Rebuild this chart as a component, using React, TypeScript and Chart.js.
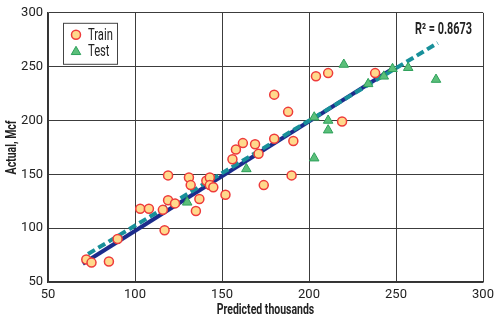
import React, { useEffect, useRef } from "react";
import { Chart, registerables } from "chart.js";

Chart.register(...registerables);

const trainX = [72, 75, 85, 90, 103, 108, 117, 116, 119, 119, 123, 131, 132, 137, 135, 141, 143, 143, 145, 152, 156, 158, 162, 169, 171, 174, 180, 180, 188, 190, 191, 204, 211, 219, 238];
const trainY = [71, 68, 69, 90, 118, 118, 98, 117, 149, 126, 123, 147, 140, 127, 116, 144, 147, 140, 138, 131, 164, 173, 179, 178, 169, 140, 224, 183, 208, 149, 181, 241, 244, 199, 244];
const testX = [130, 164, 203, 203, 211, 211, 220, 234, 243, 248, 257, 273];
const testY = [124, 155, 203, 165, 200, 191, 252, 234, 241, 248, 249, 238];
const fitX = [70, 249];
const fitY = [67, 249];
const trendX = [73, 274];
const trendY = [76, 272];
const xTicks = [50, 100, 150, 200, 250, 300];
const yTicks = [50, 100, 150, 200, 250, 300];
const r2Label = "R² = 0.8673";
const xTitle = "Predicted thousands";
const yTitle = "Actual, Mcf";

const FONT = "Roboto, 'Noto Sans', sans-serif";
const CIRCLE_FILL = "#FFD98C";
const CIRCLE_STROKE = "#EE3B3B";
const TRI_FILL = "#5BBF7A";
const TRI_STROKE = "#2DA05A";
const TEXT = "#222";

const toPts = (xs: number[], ys: number[]) => xs.map((x, i) => ({ x, y: ys[i] }));

function narrowText(ctx: any, text: string, x: number, y: number, font: string, sx: number, align: string, rot = 0) {
  ctx.save();
  ctx.translate(x, y);
  if (rot) ctx.rotate(rot);
  ctx.scale(sx, 1);
  ctx.font = font;
  ctx.textAlign = align;
  ctx.textBaseline = "middle";
  ctx.fillStyle = TEXT;
  ctx.fillText(text, 0, 0);
  ctx.restore();
}

const overlayPlugin = {
  id: "overlay",
  afterDraw(chart: any) {
    const ctx = chart.ctx;
    const a = chart.chartArea;
    ctx.save();
    // legend box
    const bx = a.left + 15, by = a.top + 10, bw = 54, bh = 41;
    ctx.fillStyle = "#ffffff";
    ctx.fillRect(bx, by, bw, bh);
    ctx.strokeStyle = "#444";
    ctx.lineWidth = 1;
    ctx.strokeRect(bx + 0.5, by + 0.5, bw, bh);
    // circle
    ctx.beginPath();
    ctx.arc(bx + 13, by + 12, 4.5, 0, Math.PI * 2);
    ctx.fillStyle = CIRCLE_FILL;
    ctx.fill();
    ctx.strokeStyle = CIRCLE_STROKE;
    ctx.lineWidth = 1.5;
    ctx.stroke();
    // triangle
    const tx = bx + 13, ty = by + 29, r = 5.5;
    ctx.beginPath();
    ctx.moveTo(tx, ty - r);
    ctx.lineTo(tx + r * 0.866, ty + r * 0.5);
    ctx.lineTo(tx - r * 0.866, ty + r * 0.5);
    ctx.closePath();
    ctx.fillStyle = TRI_FILL;
    ctx.fill();
    ctx.strokeStyle = TRI_STROKE;
    ctx.lineWidth = 1;
    ctx.stroke();
    ctx.restore();
    narrowText(ctx, "Train", bx + 25, by + 13, `16px ${FONT}`, 0.7, "left");
    narrowText(ctx, "Test", bx + 25, by + 29, `16px ${FONT}`, 0.7, "left");
    narrowText(ctx, r2Label, a.right - 11, a.top + 17, `bold 16px ${FONT}`, 0.68, "right");
    // axis titles
    narrowText(ctx, xTitle, (a.left + a.right) / 2, 310, `bold 15px ${FONT}`, 0.7, "center");
    narrowText(ctx, yTitle, 12, (a.top + a.bottom) / 2, `bold 15px ${FONT}`, 0.7, "center", -Math.PI / 2);
  },
};

export default function App() {
  const ref = useRef<HTMLCanvasElement | null>(null);
  useEffect(() => {
    if (!ref.current) return;
    const chart = new Chart(ref.current, {
      type: "scatter",
      data: {
        datasets: [
          {
            label: "Test",
            data: toPts(testX, testY),
            pointStyle: "triangle",
            pointRadius: 5.5,
            backgroundColor: TRI_FILL,
            borderColor: TRI_STROKE,
            borderWidth: 1,
            order: 0,
          },
          {
            label: "Train",
            data: toPts(trainX, trainY),
            pointStyle: "circle",
            pointRadius: 4.5,
            backgroundColor: CIRCLE_FILL,
            borderColor: CIRCLE_STROKE,
            borderWidth: 1.5,
            order: 1,
          },
          {
            type: "line",
            label: "Fit",
            data: toPts(fitX, fitY),
            borderColor: "#1C2C8C",
            borderWidth: 4,
            pointRadius: 0,
            showLine: true,
            fill: false,
            order: 3,
          },
          {
            type: "line",
            label: "Trend",
            data: toPts(trendX, trendY),
            borderColor: "#18909A",
            borderWidth: 4,
            borderDash: [8, 4],
            pointRadius: 0,
            showLine: true,
            fill: false,
            order: 2,
          },
        ] as any,
      },
      options: {
        animation: false,
        responsive: false,
        maintainAspectRatio: false,
        layout: { padding: { left: 0, right: 17, top: 12, bottom: 0 } },
        plugins: { legend: { display: false }, tooltip: { enabled: false } },
        scales: {
          x: {
            type: "linear",
            min: 50,
            max: 300,
            afterBuildTicks: (s: any) => {
              s.ticks = xTicks.map((v) => ({ value: v }));
            },
            afterFit: (s: any) => {
              s.height = 40;
            },
            ticks: { color: TEXT, padding: 5, font: { family: FONT, size: 13 } },
            grid: { color: "#3c3c3c", lineWidth: 1, drawTicks: false },
            border: { color: "#333", width: 1.5 },
          },
          y: {
            type: "linear",
            min: 50,
            max: 300,
            afterBuildTicks: (s: any) => {
              s.ticks = yTicks.map((v) => ({ value: v }));
            },
            afterFit: (s: any) => {
              s.width = 48;
            },
            ticks: { color: TEXT, padding: 5, font: { family: FONT, size: 13 } },
            grid: { color: "#3c3c3c", lineWidth: 1, drawTicks: false },
            border: { color: "#333", width: 1.5 },
          },
        },
      },
      plugins: [overlayPlugin],
    });
    return () => chart.destroy();
  }, []);
  return (
    <div style={{ position: "absolute", left: 0, top: 0, width: 500, height: 322, background: "#fff" }}>
      <canvas ref={ref} width={500} height={322} style={{ width: 500, height: 322 }} />
    </div>
  );
}
